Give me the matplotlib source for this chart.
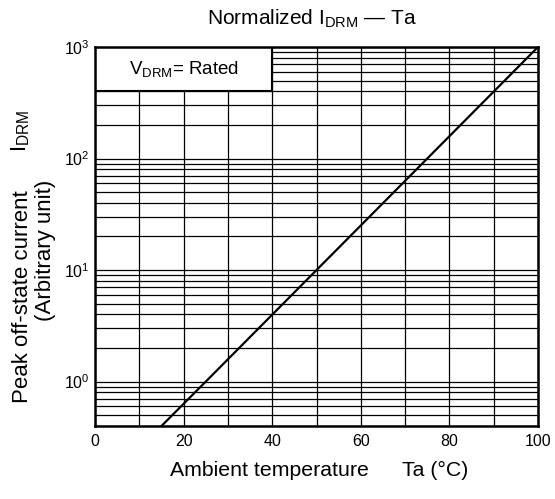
import matplotlib
matplotlib.use("Agg")
import matplotlib.pyplot as plt
from matplotlib.ticker import LogLocator, MultipleLocator, NullFormatter
from matplotlib.patches import Rectangle

# Data
temperature = [15, 25, 50, 75, 100]
idrm_norm = [0.4, 1, 10, 100, 1000]
x_ticks = [0, 20, 40, 60, 80, 100]

plt.rcParams['font.family'] = ['Liberation Sans', 'DejaVu Sans']
plt.rcParams['mathtext.fontset'] = 'custom'
plt.rcParams['mathtext.rm'] = 'Liberation Sans'
plt.rcParams['mathtext.it'] = 'Liberation Sans'
plt.rcParams['mathtext.bf'] = 'Liberation Sans'

fig = plt.figure(figsize=(5.55, 4.99), dpi=100)
ax = fig.add_axes([95/555, 1-426/499, (538-95)/555, (426-47)/499])

ax.set_yscale('log')
ax.set_xlim(0, 100)
ax.set_ylim(0.4, 1000)

ax.set_xticks(x_ticks)
ax.xaxis.set_minor_locator(MultipleLocator(10))
ax.yaxis.set_major_locator(LogLocator(base=10, numticks=10))
ax.yaxis.set_minor_locator(LogLocator(base=10, subs=range(2, 10), numticks=20))
ax.yaxis.set_minor_formatter(NullFormatter())
ax.tick_params(which='both', length=0, labelsize=11.5, colors='black')
ax.tick_params(axis='x', pad=6)
ax.tick_params(axis='y', pad=4)

ax.set_axisbelow(True)
ax.grid(True, which='both', color='black', linewidth=0.9)
for s in ax.spines.values():
    s.set_linewidth(1.8)
    s.set_zorder(3)

ax.add_patch(Rectangle((0, 400), 40, 600, facecolor='white', edgecolor='black',
                       linewidth=1.5, zorder=1.5))
ax.text(20, 640, r"V$_{\mathrm{DRM}}$= Rated", ha='center', va='center', fontsize=13.5, zorder=2)

ax.plot(temperature, idrm_norm, color='black', linewidth=1.6, zorder=2.5)

fig.text(0.562, 0.962, r"Normalized I$_{\mathrm{DRM}}$ — Ta", ha='center', va='center', fontsize=15)
fig.text(0.306, 0.057, "Ambient temperature", ha='left', va='center', fontsize=15.3)
fig.text(0.724, 0.057, "Ta (°C)", ha='left', va='center', fontsize=15.3)
fig.text(0.040, 0.405, "Peak off-state current", rotation=90, ha='center', va='center', fontsize=16)
fig.text(0.082, 0.499, "(Arbitrary unit)", rotation=90, ha='center', va='center', fontsize=16)
fig.text(0.038, 0.737, r"I$_{\mathrm{DRM}}$", rotation=90, ha='center', va='center', fontsize=16)

fig.savefig("out.png", dpi=100)
